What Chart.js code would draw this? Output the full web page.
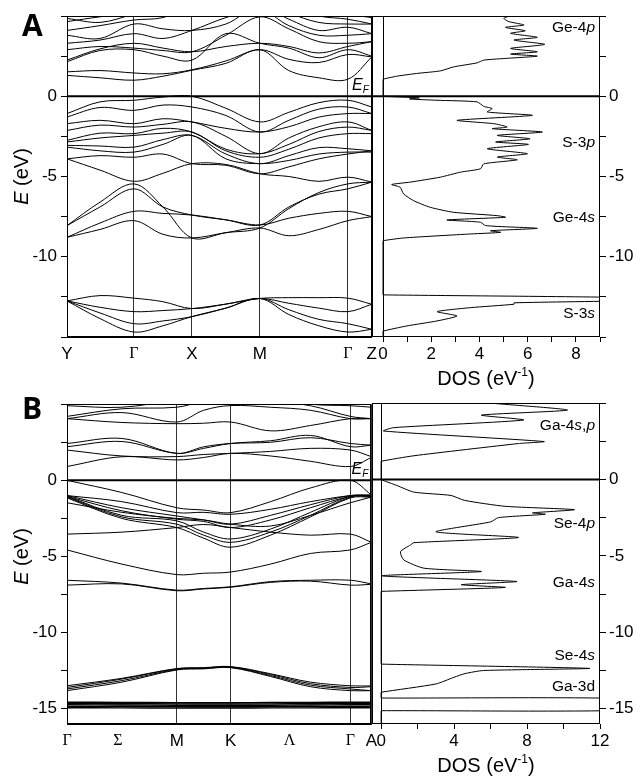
<!DOCTYPE html>
<html>
<head>
<meta charset="utf-8">
<script src="https://cdn.jsdelivr.net/npm/chart.js@4.4.0/dist/chart.umd.min.js"></script>
<style>
  body { margin: 0; background: #fff; }
  #wrap { position: relative; width: 637px; height: 777px; }
  canvas { position: absolute; }
</style>
</head>
<body>
<div id="wrap">
  <canvas id="bandA" width="380" height="390" style="left:0px;top:0px"></canvas>
  <canvas id="dosA" width="265" height="390" style="left:372px;top:0px"></canvas>
  <canvas id="bandB" width="380" height="387" style="left:0px;top:390px"></canvas>
  <canvas id="dosB" width="265" height="387" style="left:372px;top:390px"></canvas>
</div>
<script>
// ---------- panel A : band structure ----------
var kA = [0, 0.33, 0.67, 0.96, 1.25, 1.59, 1.93, 2.22, 2.52, 2.81, 3.05];
var kA_sym = [0, 0.67, 1.25, 1.93, 2.81, 3.05];
var kA_lab = ['Y', 'Γ', 'X', 'M', 'Γ', 'Z'];

var condA = [
  [1.30, 1.15, 1.00, 1.25, 1.62, 2.05, 2.90, 1.60, 1.15, 1.06, 2.45],
  [1.52, 1.60, 1.45, 1.40, 1.65, 2.20, 2.90, 2.30, 2.10, 2.60, 2.45],
  [2.15, 2.85, 2.90, 2.50, 2.25, 3.90, 3.30, 3.00, 2.40, 2.90, 2.50],
  [2.25, 2.95, 3.30, 3.00, 2.77, 3.10, 3.30, 3.10, 2.70, 3.10, 3.40],
  [2.90, 3.10, 3.00, 2.85, 2.77, 3.80, 4.95, 4.20, 3.40, 3.30, 3.40],
  [3.30, 3.50, 3.90, 3.60, 4.10, 4.90, 5.40, 4.40, 3.80, 3.80, 3.90],
  [3.80, 3.60, 4.50, 4.20, 4.10, 4.50, 5.60, 4.80, 4.10, 4.30, 3.90],
  [4.10, 4.40, 4.75, 4.90, 5.60, 5.80, 6.00, 5.20, 4.60, 4.50, 4.50],
  [4.65, 4.95, 5.20, 5.50, 6.00, 6.00, 6.00, 5.60, 5.00, 4.80, 4.50],
  [4.85, 4.60, 5.10, 5.40, 5.80, 6.00, 6.00, 5.90, 5.30, 5.10, 4.90]
];
var valA = [
  [-1.08, -0.35, -0.25, -0.05, 0.00, -0.75, -1.60, -1.00, -0.40, -0.25, -0.67],
  [-1.29, -0.70, -0.88, -0.55, -0.67, -1.20, -2.23, -1.50, -0.80, -0.67, -1.08],
  [-1.71, -1.50, -1.71, -1.40, -1.60, -2.00, -2.23, -1.90, -1.30, -1.08, -1.08],
  [-2.13, -1.80, -1.92, -1.75, -1.60, -2.50, -3.58, -2.60, -1.90, -1.60, -2.13],
  [-2.75, -2.30, -2.33, -2.00, -2.23, -3.30, -3.58, -3.00, -2.20, -1.92, -2.13],
  [-2.85, -2.60, -2.44, -2.30, -2.23, -3.40, -3.80, -3.30, -2.60, -2.33, -2.33],
  [-3.06, -3.10, -3.17, -2.70, -2.44, -3.60, -4.20, -3.70, -3.20, -3.27, -3.40],
  [-3.17, -3.40, -3.48, -3.00, -2.44, -3.90, -4.20, -4.00, -3.60, -3.48, -3.48],
  [-3.90, -3.70, -3.80, -3.60, -4.20, -4.30, -4.83, -4.40, -3.90, -3.60, -3.40],
  [-3.90, -4.60, -5.30, -4.80, -4.20, -4.25, -4.83, -5.00, -5.30, -5.04, -5.35]
];
var ge4sA = [
  [-8.06, -6.60, -5.46, -6.90, -8.83, -8.50, -8.21, -7.00, -6.00, -5.46, -5.35],
  [-8.06, -6.90, -5.77, -6.90, -7.40, -7.70, -8.02, -6.90, -6.10, -5.77, -5.35],
  [-8.79, -7.90, -7.17, -7.30, -7.40, -7.70, -8.02, -7.60, -7.30, -7.17, -7.50],
  [-8.79, -8.30, -7.75, -8.60, -8.83, -8.50, -8.21, -8.69, -8.30, -7.75, -7.50]
];
var s3sA = [
  [-12.75, -12.42, -12.58, -12.80, -13.23, -12.95, -12.60, -12.55, -12.55, -12.58, -12.96],
  [-12.75, -13.15, -13.42, -13.35, -13.23, -12.95, -12.60, -12.90, -13.20, -13.42, -12.96],
  [-12.75, -13.50, -14.17, -14.00, -13.73, -13.20, -12.60, -13.30, -13.90, -14.17, -14.52],
  [-12.75, -13.85, -14.69, -14.30, -13.73, -13.20, -12.60, -13.60, -14.30, -14.69, -14.52]
];

// ---------- panel A : DOS ----------
var dosA_E = [5.02, 4.85, 4.65, 4.44, 4.29, 4.08, 3.92, 3.67, 3.50, 3.23, 2.98, 2.77, 2.63, 2.50, 2.35,
  2.25, 2.08, 1.83, 1.58, 1.42, 1.25, 1.06, 1.00, 0.05, 0.00, -0.10, -0.17, -0.25, -0.35, -0.63, -0.77, -0.98,
  -1.19, -1.50, -1.71, -1.92, -2.02, -2.23, -2.44, -2.65, -2.85, -3.00, -3.27, -3.58, -3.79, -3.96,
  -4.21, -4.52, -4.73, -5.04, -5.35, -5.50, -5.67, -6.08, -6.50, -6.92, -7.23, -7.44, -7.54, -7.71,
  -7.85, -8.06, -8.23, -8.38, -8.48, -8.58, -8.83, -9.00, -9.05, -12.32, -12.375, -12.55, -12.72, -12.87, -12.96,
  -13.17, -13.42, -13.69, -14.00, -14.31, -14.63, -14.68, -15.00];
var dosA_D = [5.29, 5.01, 5.22, 5.85, 5.08, 5.90, 5.29, 6.40, 5.43, 6.71, 5.29, 6.40, 5.29, 6.40, 5.01,
  4.18, 3.90, 2.93, 2.38, 1.40, 0.57, 0.00, 0.00, 0.00, 0.00, 1.50, 1.10, 2.24, 3.90, 4.18, 4.53, 4.32,
  6.19, 3.07, 4.60, 5.15, 4.53, 6.61, 4.74, 6.10, 4.67, 6.03, 4.32, 5.99, 4.74, 5.57,
  4.18, 4.04, 3.21, 2.38, 1.13, 0.36, 0.71, 0.85, 1.26, 1.96, 2.93, 4.74, 5.08, 2.65,
  4.04, 4.25, 6.40, 4.46, 4.88, 3.63, 0.85, 0.00, 0.00, 0.00, 0.00, 10.5, 10.5, 5.43, 5.43,
  3.63, 2.24, 3.07, 2.24, 0.99, 0.00, 0.00, 0.00];

// ---------- panel B : band structure ----------
var kB = [0, 0.55, 1.10, 1.37, 1.64, 2.04, 2.44, 2.84, 3.05];
var kB_sym = [0, 0.51, 1.10, 1.64, 2.23, 2.84, 3.05];
var kB_lab = ['Γ', 'Σ', 'M', 'K', 'Λ', 'Γ', 'A'];

var condB = [
  [0.91, 1.55, 1.34, 1.50, 1.77, 1.60, 1.25, 0.91, 1.50],
  [1.99, 1.60, 1.56, 1.70, 1.77, 1.90, 2.10, 1.99, 1.56],
  [2.21, 2.55, 1.77, 2.10, 2.42, 2.60, 2.95, 2.21, 2.31],
  [2.42, 2.75, 1.77, 2.20, 2.42, 2.50, 2.80, 2.42, 2.31],
  [4.05, 3.80, 3.72, 3.75, 3.83, 3.25, 3.60, 4.05, 4.05],
  [4.05, 4.45, 3.83, 4.60, 4.91, 4.80, 4.60, 4.05, 4.05],
  [4.20, 4.70, 4.80, 5.20, 5.40, 5.20, 4.90, 4.20, 4.05],
  [4.90, 4.80, 5.30, 5.60, 5.80, 5.50, 5.00, 4.90, 4.80]
];
var valB = [
  [0.00, -0.80, -1.80, -1.95, -2.12, -1.40, -0.50, 0.00, -0.95],
  [-1.00, -1.40, -2.12, -2.10, -2.23, -1.90, -1.40, -1.00, -0.95],
  [-1.00, -1.80, -2.34, -2.60, -2.88, -2.30, -1.60, -1.00, -1.00],
  [-1.05, -2.00, -2.55, -2.70, -3.10, -2.60, -1.80, -1.05, -1.00],
  [-1.05, -2.30, -2.66, -3.40, -3.85, -3.20, -2.10, -1.05, -1.05],
  [-1.10, -2.40, -2.88, -3.60, -4.07, -3.40, -2.30, -1.10, -1.05],
  [-1.15, -2.50, -3.10, -3.80, -4.39, -3.60, -2.40, -1.15, -1.10],
  [-1.47, -2.10, -2.50, -2.60, -2.88, -3.00, -2.30, -1.47, -1.10],
  [-3.53, -3.40, -3.10, -2.90, -3.10, -3.40, -3.60, -3.53, -4.07],
  [-4.57, -5.50, -6.19, -6.10, -6.02, -5.50, -4.80, -4.57, -4.07]
];
var ga4sB = [
  [-6.56, -6.75, -7.21, -7.10, -6.99, -6.65, -6.56, -6.56, -6.80],
  [-6.88, -6.80, -7.25, -7.13, -7.02, -6.70, -6.62, -6.88, -6.83]
];
var se4sB = [
  [-13.49, -13.00, -12.36, -12.30, -12.23, -12.70, -13.25, -13.49, -13.50],
  [-13.60, -13.05, -12.38, -12.32, -12.25, -12.75, -13.35, -13.60, -13.55],
  [-13.70, -13.15, -12.42, -12.35, -12.28, -12.82, -13.45, -13.70, -13.81],
  [-13.81, -13.25, -12.45, -12.38, -12.30, -12.88, -13.55, -13.81, -13.81]
];
var ga3dB = [
  [-14.57, -14.58, -14.60, -14.60, -14.60, -14.59, -14.58, -14.57, -14.57],
  [-14.66, -14.67, -14.68, -14.69, -14.69, -14.68, -14.67, -14.66, -14.66],
  [-14.74, -14.75, -14.77, -14.78, -14.78, -14.77, -14.75, -14.74, -14.74],
  [-14.84, -14.85, -14.86, -14.87, -14.87, -14.86, -14.85, -14.84, -14.84],
  [-14.93, -14.94, -14.95, -14.95, -14.95, -14.94, -14.94, -14.93, -14.93]
];

// ---------- panel B : DOS ----------
var dosB_E = [4.98, 4.55, 4.22, 3.90, 3.40, 3.18, 2.49, 2.36, 1.56, 1.20, 1.15, 0.05, 0.00, -0.39, -0.82, -1.04,
  -1.36, -1.75, -1.97, -2.18, -2.27, -2.49, -2.77, -3.42, -3.79, -4.13, -4.28, -4.72, -5.26, -5.80,
  -6.02, -6.30, -6.67, -6.88, -7.06, -7.32, -7.37, -12.03, -12.08, -12.36, -12.50, -12.70, -12.94, -13.38, -13.92,
  -13.97, -14.25, -14.30, -14.36, -15.08, -15.13, -15.18, -16.00];
var dosB_D = [6.24, 10.22, 5.50, 7.81, 0.69, 0.13, 8.93, 7.54, 1.80, 0.00, 0.00, 0.00, 0.00, 0.87, 1.80, 3.83,
  4.57, 6.80, 10.60, 8.30, 9.00, 6.43, 6.00, 3.00, 7.54, 1.80, 1.61, 1.06, 1.24, 2.35,
  5.50, 0.00, 7.44, 4.39, 6.80, 0.00, 0.00, 0.00, 0.00, 11.43, 5.60, 4.60, 4.00, 3.00, 0.00,
  0.00, 0.00, 0.00, 14.0, 14.0, 0.00, 0.00, 0.00];

var SANS = '"Liberation Sans", Arial, sans-serif';
var SERIF = '"Liberation Serif", "Times New Roman", serif';
Chart.defaults.font.family = SANS;
Chart.defaults.color = '#000';

function yTicks(yMin) {
  var t = [];
  for (var v = 5; v >= yMin; v -= 2.5) t.push({ value: v });
  return t;
}
function yLabel(labMin) {
  return function (v) { return (v % 5 === 0 && v < 5 && v >= labMin) ? String(v) : ''; };
}

// draw a piece of text made of several styled parts
function drawParts(ctx, parts, x, y, align) {
  var w = 0;
  parts.forEach(function (p) { ctx.font = p[1]; w += ctx.measureText(p[0]).width; });
  var sx = align === 'right' ? x - w : (align === 'center' ? x - w / 2 : x);
  ctx.textAlign = 'left';
  ctx.textBaseline = 'middle';
  parts.forEach(function (p) {
    ctx.font = p[1];
    ctx.fillText(p[0], sx, y + (p[2] || 0));
    sx += ctx.measureText(p[0]).width;
  });
}

var frame = {
  id: 'frame',
  afterDraw: function (c) {
    var a = c.chartArea, ctx = c.ctx;
    ctx.save();
    ctx.strokeStyle = '#000';
    ctx.lineWidth = 1;
    ctx.strokeRect(Math.round(a.left) + 0.5, Math.round(a.top) + 0.5,
      Math.round(a.right - a.left) - 1, Math.round(a.bottom - a.top) - 1);
    ctx.restore();
  }
};

function bandChart(id, k, groups, sym, lab, yMin, labMin, padTop, letter, letterY) {
  var ds = [];
  groups.forEach(function (g, gi) {
    var w = (gi === groups.length - 1 && g.length === 5) ? 1.4 : 1;
    g.forEach(function (b) {
      ds.push({
        data: b.map(function (e, i) { return { x: k[i], y: e }; }),
        showLine: true, borderColor: '#000', borderWidth: w, pointRadius: 0, tension: 0.35
      });
    });
  });
  ds.push({
    data: [{ x: k[0], y: 0 }, { x: k[k.length - 1], y: 0 }],
    showLine: true, borderColor: '#000', borderWidth: 2, pointRadius: 0, tension: 0
  });
  var cv = document.getElementById(id);
  return new Chart(cv, {
    type: 'scatter',
    data: { datasets: ds },
    options: {
      responsive: false, animation: false,
      layout: { padding: { top: padTop, right: 8, left: 0, bottom: 0 } },
      plugins: { legend: { display: false }, tooltip: { enabled: false } },
      scales: {
        x: {
          type: 'linear', min: k[0], max: k[k.length - 1],
          afterBuildTicks: function (s) { s.ticks = sym.map(function (v) { return { value: v }; }); },
          afterFit: function (s) { s.height = cv.height - 337 + (padTop === 16 ? 0 : 3); },
          ticks: {
            autoSkip: false, maxRotation: 0, padding: 3,
            callback: function (v, i) { return lab[i]; },
            font: function (c) {
              var l = c.tick && c.tick.label;
              return /[ΓΣΛ]/.test(l) ? { family: SERIF, size: 16 } : { family: SANS, size: 17 };
            }
          },
          grid: {
            color: function (c) { var l = c.tick && c.tick.label; return (l === 'Σ' || l === 'Λ') ? 'rgba(0,0,0,0)' : '#333'; },
            tickColor: 'rgba(0,0,0,0)', tickLength: 4
          },
          border: { display: true, color: '#000' }
        },
        y: {
          min: yMin, max: 5,
          afterBuildTicks: function (s) { s.ticks = yTicks(yMin); },
          afterFit: function (s) { s.width = 67; },
          ticks: { callback: yLabel(labMin), font: { size: 17 }, padding: 4 },
          grid: { drawOnChartArea: false, tickLength: 6, color: '#000' },
          border: { display: true, color: '#000' }
        }
      }
    },
    plugins: [frame, {
      id: 'bandText',
      afterDraw: function (c) {
        var ctx = c.ctx, a = c.chartArea, ys = c.scales.y;
        ctx.save();
        ctx.fillStyle = '#000';
        drawParts(ctx, [[letter, 'bold 30px "Open Sans", ' + SANS]], 22, letterY, 'left');
        drawParts(ctx, [['E', 'italic 16px ' + SANS], ['F', 'italic 10px ' + SANS, 5]],
          a.right - 3, ys.getPixelForValue(0) - 11, 'right');
        ctx.translate(22, ys.getPixelForValue(-5));
        ctx.rotate(-Math.PI / 2);
        drawParts(ctx, [['E', 'italic 20px ' + SANS], [' (eV)', '20px ' + SANS]], 0, 0, 'center');
        ctx.restore();
      }
    }]
  });
}

function dosChart(id, E, D, dMin, dMax, dStep, dLabStep, yMin, labMin, padTop, labels) {
  var pts = E.map(function (e, i) { return { x: D[i], y: e }; });
  var cv = document.getElementById(id);
  var dt = [];
  for (var v = 0; v <= dMax + 1e-9; v += dStep) dt.push({ value: v });
  return new Chart(cv, {
    type: 'scatter',
    data: {
      datasets: [
        { data: pts, showLine: true, borderColor: '#000', borderWidth: 1, pointRadius: 0, tension: 0.2 },
        { data: [{ x: dMin, y: 0 }, { x: dMax, y: 0 }], showLine: true, borderColor: '#000',
          borderWidth: 2, pointRadius: 0, tension: 0 }
      ]
    },
    options: {
      responsive: false, animation: false,
      layout: { padding: { top: padTop, right: 0, left: 0, bottom: 0 } },
      plugins: { legend: { display: false }, tooltip: { enabled: false } },
      scales: {
        x: {
          type: 'linear', min: dMin, max: dMax,
          afterBuildTicks: function (s) { s.ticks = dt.slice(); },
          afterFit: function (s) { s.height = cv.height - 337 + (padTop === 16 ? 0 : 3); },
          ticks: {
            autoSkip: false, maxRotation: 0, padding: 2, font: { size: 17 },
            callback: function (v) { return (Math.abs(v % dLabStep) < 1e-9) ? String(v) : ''; }
          },
          grid: {
            color: function (c) { return c.tick && c.tick.value === 0 ? '#000' : 'rgba(0,0,0,0)'; },
            tickColor: '#000', tickLength: 5
          },
          border: { display: false }
        },
        y: {
          position: 'right', min: yMin, max: 5,
          afterBuildTicks: function (s) { s.ticks = yTicks(yMin); },
          afterFit: function (s) { s.width = 37; },
          ticks: { callback: yLabel(labMin), font: { size: 17 }, padding: 3 },
          grid: { drawOnChartArea: false, tickLength: 6, color: '#000' },
          border: { display: false }
        }
      }
    },
    plugins: [frame, {
      id: 'dosText',
      afterDraw: function (c) {
        var ctx = c.ctx, a = c.chartArea, ys = c.scales.y;
        ctx.save();
        ctx.fillStyle = '#000';
        labels.forEach(function (l) {
          drawParts(ctx, l.parts, a.right - 5, ys.getPixelForValue(l.e), 'right');
        });
        drawParts(ctx, [['DOS (eV', '20px ' + SANS], ['-1', '12px ' + SANS, -6], [')', '20px ' + SANS]],
          (a.left + a.right) / 2, a.bottom + 42, 'center');
        ctx.restore();
      }
    }]
  });
}

var LF = '15.5px ' + SANS, LI = 'italic 15.5px ' + SANS;
var labA = [
  { e: 4.25, parts: [['Ge-4', LF], ['p', LI]] },
  { e: -2.88, parts: [['S-3', LF], ['p', LI]] },
  { e: -7.56, parts: [['Ge-4', LF], ['s', LI]] },
  { e: -13.56, parts: [['S-3', LF], ['s', LI]] }
];
var labB = [
  { e: 3.5, parts: [['Ga-4', LF], ['s', LI], [',', LF], ['p', LI]] },
  { e: -2.86, parts: [['Se-4', LF], ['p', LI]] },
  { e: -6.75, parts: [['Ga-4', LF], ['s', LI]] },
  { e: -11.56, parts: [['Se-4', LF], ['s', LI]] },
  { e: -13.57, parts: [['Ga-3d', LF]] }
];

bandChart('bandA', kA, [condA, valA, ge4sA, s3sA], kA_sym, kA_lab, -15, -10, 16, 'A', 27);
dosChart('dosA', dosA_E, dosA_D, -0.458, 9, 1, 2, -15, -10, 16, labA);
bandChart('bandB', kB, [condB, valB, ga4sB, se4sB, ga3dB], kB_sym, kB_lab, -16, -15, 12, 'B', 20);
dosChart('dosB', dosB_E, dosB_D, -0.5, 12, 2, 4, -16, -15, 12, labB);
</script>
</body>
</html>
